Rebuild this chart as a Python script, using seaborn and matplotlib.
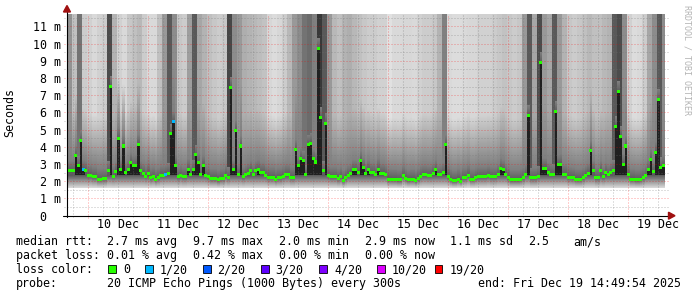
import numpy as np
import pandas as pd
import matplotlib
matplotlib.use("Agg")
import matplotlib.pyplot as plt
from matplotlib.patches import Rectangle, Polygon
from matplotlib.lines import Line2D
import seaborn as sns

# ---------------- data ----------------
# hourly median RTT in ms, starting Dec 9 ~15:30
median_ms = [
    2.6, 2.6, 2.6, 3.47, 2.9, 4.36, 2.66, 2.6, 2.33, 2.36,
    2.27, 2.27, 2.13, 2.13, 2.15, 2.15, 2.6, 7.5, 2.3, 2.54,
    4.5, 2.66, 4.05, 2.5, 2.66, 3.08, 2.89, 2.93, 4.13, 2.6,
    2.46, 2.3, 2.46, 2.21, 2.27, 2.12, 2.21, 2.33, 2.33, 2.38,
    2.46, 4.75, 5.45, 2.93, 2.27, 2.36, 2.27, 2.27, 2.71, 2.37,
    2.66, 3.53, 3.08, 2.37, 2.91, 2.33, 2.27, 2.17, 2.17, 2.17,
    2.08, 2.17, 2.17, 2.35, 2.24, 7.46, 2.66, 4.95, 2.4, 4.05,
    2.27, 2.37, 2.46, 2.62, 2.4, 2.6, 2.66, 2.5, 2.5, 2.33,
    2.24, 2.24, 2.24, 2.13, 2.21, 2.21, 2.3, 2.4, 2.4, 2.24,
    2.24, 3.82, 2.91, 3.34, 3.18, 2.37, 4.11, 4.21, 3.3, 3.12,
    9.69, 5.72, 2.6, 5.37, 2.33, 2.27, 2.27, 2.27, 2.17, 2.27,
    2.07, 2.21, 2.35, 2.46, 2.66, 2.66, 2.53, 3.18, 2.79, 2.46,
    2.66, 2.49, 2.49, 2.37, 2.71, 2.46, 2.46, 2.37, 2.13, 2.13,
    2.12, 2.12, 2.08, 2.08, 2.33, 2.17, 2.08, 2.12, 2.12, 2.03,
    2.17, 2.3, 2.37, 2.37, 2.33, 2.33, 2.46, 2.66, 2.37, 2.37,
    2.5, 4.11, 2.27, 2.12, 2.03, 2.03, 2.13, 2.01, 2.21, 2.21,
    2.35, 2.13, 2.13, 2.21, 2.27, 2.27, 2.27, 2.27, 2.33, 2.27,
    2.27, 2.27, 2.4, 2.76, 2.66, 2.4, 2.21, 2.08, 2.08, 2.08,
    2.08, 2.13, 2.21, 2.37, 5.84, 2.2, 2.2, 2.2, 2.3, 8.9,
    2.76, 2.76, 2.5, 2.4, 2.4, 6.05, 2.95, 3.0, 2.4, 2.4,
    2.24, 2.24, 2.21, 2.13, 2.12, 2.12, 2.21, 2.33, 2.46, 3.78,
    2.6, 2.21, 2.21, 2.6, 2.27, 2.49, 2.37, 2.5, 2.62, 5.17,
    7.21, 4.6, 3.0, 4.05, 2.37, 2.13, 2.13, 2.08, 2.08, 2.13,
    2.21, 2.33, 2.66, 3.28, 2.56, 3.69, 6.73, 2.79, 2.91,
]
# hours with packet loss and number of lost pings (out of 20)
loss_hours = [6, 39, 42]
loss_counts = [1, 1, 1]

# gray level of the smoke above the median, per 2-hour column (1 = white)
smoke_tone = [
    0.58, 0.75, 0.45, 0.8, 0.82, 0.85, 0.82, 0.8, 0.3, 0.7,
    0.82, 0.85, 0.78, 0.75, 0.72, 0.8, 0.85, 0.85, 0.75, 0.6,
    0.35, 0.55, 0.78, 0.8, 0.62, 0.35, 0.65, 0.7, 0.75, 0.78,
    0.8, 0.78, 0.28, 0.55, 0.6, 0.68, 0.7, 0.72, 0.74, 0.76,
    0.84, 0.86, 0.84, 0.8, 0.72, 0.6, 0.55, 0.45, 0.42, 0.5,
    0.22, 0.35, 0.6, 0.72, 0.75, 0.7, 0.68, 0.72, 0.75, 0.78,
    0.8, 0.8, 0.82, 0.82, 0.88, 0.85, 0.85, 0.84, 0.84, 0.85,
    0.82, 0.8, 0.8, 0.78, 0.7, 0.5, 0.85, 0.86, 0.86, 0.85,
    0.84, 0.84, 0.82, 0.82, 0.82, 0.8, 0.78, 0.76, 0.78, 0.8,
    0.78, 0.6, 0.35, 0.65, 0.3, 0.6, 0.65, 0.35, 0.6, 0.7,
    0.78, 0.8, 0.78, 0.75, 0.72, 0.75, 0.75, 0.72, 0.7, 0.35,
    0.3, 0.55, 0.82, 0.86, 0.85, 0.8, 0.65, 0.55, 0.35, 0.55,
]
smoke_floor_ms = 1.62

day_labels = ["10 Dec", "11 Dec", "12 Dec", "13 Dec", "14 Dec",
              "15 Dec", "16 Dec", "17 Dec", "18 Dec", "19 Dec"]
first_midnight_hour = 8.5
y_ticks = [0, 1, 2, 3, 4, 5, 6, 7, 8, 9, 10, 11]
y_tick_labels = ["0  ", "1 m", "2 m", "3 m", "4 m", "5 m", "6 m", "7 m",
                 "8 m", "9 m", "10 m", "11 m"]

loss_legend_labels = ["0", "1/20", "2/20", "3/20", "4/20", "10/20", "19/20"]
loss_legend_counts = [0, 1, 2, 3, 4, 10, 19]
loss_legend_colors = ["#26ff00", "#00b8ff", "#0059ff", "#5e00ff",
                      "#7e00ff", "#dd00ff", "#ff0000"]

rtt_stats = ["2.7 ms avg", "9.7 ms max", "2.0 ms min", "2.9 ms now",
             "1.1 ms sd", "2.5", "am/s"]
loss_stats = ["0.01 % avg", "0.42 % max", "0.00 % min", "0.00 % now"]
probe_text = "20 ICMP Echo Pings (1000 Bytes) every 300s"
end_text = "end: Fri Dec 19 14:49:54 2025"

# ---------------- styling ----------------
sns.set_theme(style="white")
plt.rcParams["font.family"] = ["DejaVu Sans Mono", "DejaVu Sans"]
plt.rcParams["lines.scale_dashes"] = False
FS = 8.4

W, H = 697, 297
fig = plt.figure(figsize=(W / 100, H / 100), dpi=100)
fig.patch.set_facecolor("white")


def fx(px):
    return px / W


def fy(py):
    return 1 - py / H


ax_l, ax_r, ax_t, ax_b = 67, 669, 14.3, 215.7
ax = fig.add_axes([fx(ax_l), fy(ax_b), fx(ax_r) - fx(ax_l), fy(ax_t) - fy(ax_b)])
ax.set_facecolor("white")
x_max = (ax_r - ax_l) / 2.5
y_max = 11.7
ax.set_xlim(0, x_max)
ax.set_ylim(0, y_max)

# ---------------- smoke ----------------
med = np.array(median_ms)
tone = np.array(smoke_tone)
nh = len(med)
vy = (np.arange(0, 1170) + 0.5) * 0.01
Z = np.ones((len(vy), nh))
for h in range(nh):
    m = med[h]
    T = tone[h // 2]
    b = min(m, 2.35)
    col = np.ones_like(vy)
    lo = (vy >= smoke_floor_ms) & (vy < b)
    col[lo] = 0.86 + (0.36 - 0.86) * (vy[lo] - smoke_floor_ms) / (b - smoke_floor_ms)
    core = (vy >= b) & (vy < m)
    col[core] = 0.13 if (m - b) > 0.3 else 0.36
    near = (vy >= m) & (vy < m + 0.6)
    col[near] = 0.36 + (0.5 - 0.36) * (vy[near] - m) / 0.6
    t_mid = min(0.5, T)
    far = vy >= m + 0.6
    frac = np.clip((vy[far] - m - 0.6) / 3.0, 0, 1)
    col[far] = t_mid + (T - t_mid) * frac
    Z[:, h] = col
ax.imshow(Z, extent=(0, nh, 0, y_max), origin="lower", aspect="auto",
          cmap="gray", vmin=0, vmax=1, interpolation="nearest", zorder=1)

# ---------------- grid ----------------
major_col = (1.0, 0.0, 0.0, 0.38)
minor_col = (0.45, 0.45, 0.45, 0.45)
dots = (0, (0.72, 1.44))
for v in y_ticks[1:]:
    ax.hlines(v, -1.2, x_max, colors=[major_col], linestyles=[dots], lw=0.72,
              zorder=3, clip_on=False)
for v in y_ticks:
    ax.hlines(v + 0.5, -1.2, x_max, colors=[minor_col], linestyles=[dots],
              lw=0.72, zorder=3, clip_on=False)
midnights = [first_midnight_hour + 24 * i for i in range(len(day_labels))]
for xm in midnights:
    ax.vlines(xm, -0.15, y_max, colors=[major_col], linestyles=[dots], lw=0.72,
              zorder=3, clip_on=False)
    for q in (6, 12, 18):
        xq = xm + q
        if xq < x_max:
            ax.vlines(xq, -0.1, y_max, colors=[minor_col], linestyles=[dots],
                      lw=0.72, zorder=3, clip_on=False)
for q in (6, 12, 18):
    xq = first_midnight_hour - 24 + q
    if xq > 0:
        ax.vlines(xq, -0.1, y_max, colors=[minor_col], linestyles=[dots],
                  lw=0.72, zorder=3, clip_on=False)

# ---------------- median marks ----------------
loss = np.zeros(nh, dtype=int)
for hh, c in zip(loss_hours, loss_counts):
    loss[hh] = c
label_of = dict(zip(loss_legend_counts, loss_legend_labels))
pal = dict(zip(loss_legend_labels, loss_legend_colors))
df = pd.DataFrame({"hour": np.arange(nh) + 0.5, "median": med,
                   "loss": [label_of[c] for c in loss]})
rect = [(-1.25, -1.5), (1.25, -1.5), (1.25, 1.5), (-1.25, 1.5), (-1.25, -1.5)]
sns.scatterplot(data=df, x="hour", y="median", hue="loss", palette=pal,
                marker=rect, s=4.8, linewidth=0, legend=False, ax=ax, zorder=4)

# ---------------- axes ----------------
for sp in ax.spines.values():
    sp.set_visible(False)
ax.set_xlabel("")
ax.set_ylabel("")
ax.set_yticks(y_ticks)
ax.set_yticklabels(y_tick_labels, fontsize=FS)
ax.set_xticks([first_midnight_hour + 12 + 24 * i for i in range(len(day_labels))])
ax.set_xticklabels(day_labels, fontsize=FS)
ax.tick_params(axis="y", length=0, pad=4.3, colors="black")
ax.tick_params(axis="x", length=0, pad=2.0, colors="black")

fig.add_artist(Line2D([fx(ax_l), fx(ax_l)], [fy(217), fy(9)], color="black",
                      lw=0.8, zorder=10))
fig.add_artist(Line2D([fx(63), fx(671)], [fy(ax_b), fy(ax_b)], color="black",
                      lw=0.8, zorder=10))
arrow_col = "#a01010"
fig.add_artist(Polygon([(fx(63.5), fy(12)), (fx(70.5), fy(12)), (fx(67), fy(5.5))],
                       closed=True, color=arrow_col, zorder=11))
fig.add_artist(Polygon([(fx(668.5), fy(212.2)), (fx(668.5), fy(219.2)), (fx(675), fy(215.7))],
                       closed=True, color=arrow_col, zorder=11))

fig.text(fx(10), fy(113), "Seconds", rotation=90, ha="center", va="center",
         fontsize=FS, color="black")
fig.text(fx(687), fy(5), "RRDTOOL / TOBI OETIKER", rotation=270, ha="center",
         va="top", fontsize=6.0, color="#b4b4b4")

# ---------------- legend text ----------------
line_base = [245.3, 259.3, 273.3, 287.3]


def put(xpx, ypx, s):
    fig.text(fx(xpx), fy(ypx), s, ha="left", va="baseline", fontsize=FS, color="black")


put(16, line_base[0], "median rtt:")
for xp, s in zip([107, 193, 279, 365, 450, 528, 573], rtt_stats):
    put(xp, line_base[0], s)
put(16, line_base[1], "packet loss:")
for xp, s in zip([107, 193, 279, 365], loss_stats):
    put(xp, line_base[1], s)
put(16, line_base[2], "loss color:")
box_x = [108.3, 145.3, 203.3, 261.0, 319.0, 377.3, 434.7]
txt_x = [123.0, 160.0, 217.3, 275.7, 334.0, 391.7, 449.3]
for bx, tx, lab, colr in zip(box_x, txt_x, loss_legend_labels, loss_legend_colors):
    fig.add_artist(Rectangle((fx(bx), fy(line_base[2] - 0.8)), 7.5 / W, 7.5 / H,
                             facecolor=colr, edgecolor="black", lw=0.6, zorder=10))
    put(tx, line_base[2], lab)
put(16, line_base[3], "probe:")
put(107, line_base[3], probe_text)
put(478, line_base[3], end_text)

fig.savefig("out.png", dpi=100, facecolor="white")
